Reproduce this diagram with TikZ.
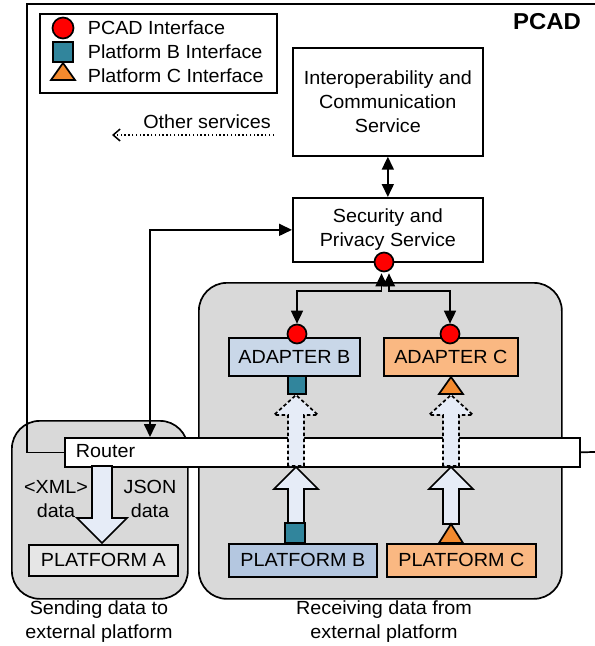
\documentclass[tikz,border=0pt]{standalone}
\usepackage{fontspec}
\setmainfont{Liberation Sans}[FakeStretch=1.04]
\usetikzlibrary{arrows.meta}

\definecolor{portred}{HTML}{FF0000}
\definecolor{portteal}{HTML}{31859C}
\definecolor{portorange}{HTML}{F38A2E}
\definecolor{groupgrey}{HTML}{D9D9D9}
\definecolor{platagrey}{HTML}{E6E6E6}
\definecolor{adapterblue}{HTML}{C9D7E8}
\definecolor{platblue}{HTML}{B4C7E0}
\definecolor{softorange}{HTML}{FAB882}
\definecolor{flowfill}{HTML}{E6ECF7}

% block arrow: [style] {x}{tip y}{head base y}{tail y}{shaft half width}{head half width}
\newcommand\blkarrow[7][]{%
  \draw[blockarrow,#1] ({#2-#6},#5) -- ({#2-#6},#4) -- ({#2-#7},#4) -- (#2,#3)
    -- ({#2+#7},#4) -- ({#2+#6},#4) -- ({#2+#6},#5) -- cycle;}

\begin{document}
\begin{tikzpicture}[x=1pt,y=-1pt,line width=1.7pt,
  font=\fontsize{19}{24}\selectfont,
  box/.style={draw,inner sep=0pt,align=center},
  greybox/.style={draw,fill=groupgrey,rounded corners=28pt,inner sep=0pt},
  label/.style={inner sep=0pt,align=center},
  circport/.style={circle,draw,fill=portred,inner sep=0pt,minimum size=19},
  sqport/.style={rectangle,draw,fill=portteal,inner sep=0pt,minimum size=19},
  triport/.style={draw,fill=portorange,line join=miter},
  bi/.style={{Triangle[length=13pt,width=12pt]}-{Triangle[length=13pt,width=12pt]}},
  blockarrow/.style={draw,fill=flowfill,line join=miter},
  dashedflow/.style={dash pattern=on 3.5pt off 2.5pt},
  dottedflow/.style={line width=1.4pt,dash pattern=on 1.4pt off 2.4pt}]

\useasboundingbox (0,0) rectangle (595,646);
\clip (0,0) rectangle (595,646);

% grouping panels
\node[greybox,minimum width=176,minimum height=178,anchor=north west] (sendgrp) at (11,420) {};
\node[greybox,minimum width=363,minimum height=316,anchor=north west] (recvgrp) at (198,282) {};

% router bar
\node[box,fill=white,minimum width=515,minimum height=29,anchor=north west] (router) at (64,437) {};
\node[label,anchor=west] (routerlbl) at (75,451.5) {Router};

% PCAD frame, open towards the right
\coordinate (frameTR) at (610,4);
\coordinate (frameTL) at (27,4);
\coordinate (frameR) at (610,451.5);
\draw (frameTR) -- (frameTL) |- (router.west);
\draw (router.east) -- (frameR);
\node[label,font=\fontsize{23}{26}\selectfont\bfseries] (pcadlbl) at (547,22) {PCAD};

% legend
\node[box,minimum width=237,minimum height=79,anchor=north west] (legend) at (39,13) {};
\node[circport,minimum size=21] (lgcirc) at (63,28) {};
\node[sqport,minimum size=20] (lgsq) at (63,52) {};
\draw[triport] (51,80) -- (75,80) -- (63,63) -- cycle;
\node[label,anchor=west] (lg1) at (87,28) {PCAD Interface};
\node[label,anchor=west] (lg2) at (87,52) {Platform B Interface};
\node[label,anchor=west] (lg3) at (87,76) {Platform C Interface};

% other services
\node[label] (other) at (207,122) {Other services};
\coordinate (otherA) at (274,135);
\coordinate (otherB) at (112,135);
\draw[dottedflow,-{Straight Barb[length=7pt,width=12pt,line width=1.5pt]}] (otherA) -- (otherB);

% services
\node[box,minimum width=190,minimum height=108,anchor=north west] (interop) at (292,47)
  {Interoperability and\\Communication\\Service};
\node[box,minimum width=190,minimum height=64,anchor=north west] (security) at (292,197)
  {Security and\\Privacy Service};
\draw[bi] (interop.south) -- (security.north);

% router <-> security
\coordinate (tapx) at (150,0);
\draw[bi] (router.north -| tapx) |- (security.west);

% adapters
\node[box,fill=adapterblue,minimum width=131,minimum height=38,anchor=north west] (adapterB) at (228,337) {ADAPTER B};
\node[box,fill=softorange,minimum width=134,minimum height=38,anchor=north west] (adapterC) at (383,337) {ADAPTER C};

% platforms
\node[box,fill=platagrey,minimum width=149,minimum height=31,anchor=north west] (platA) at (28,544) {PLATFORM A};
\node[box,fill=platblue,minimum width=148,minimum height=33,anchor=north west] (platB) at (228,543) {PLATFORM B};
\node[box,fill=softorange,minimum width=149,minimum height=33,anchor=north west] (platC) at (386,543) {PLATFORM C};

% data flows
\blkarrow{102}{543}{518}{466}{10}{25}
\blkarrow[dashedflow]{296}{395}{415}{466}{8}{22}
\blkarrow[dashedflow]{451}{395}{415}{466}{8}{22}
\blkarrow{296}{467}{489}{523}{8}{22}
\blkarrow{451}{467}{489}{524}{8}{22}

\node[label] (xmllbl) at (56,499) {<XML>\\data};
\node[label] (jsonlbl) at (150,499) {JSON\\data};

% interface ports
\node[sqport,minimum size=18] (sqBa) at (297,385) {};
\node[sqport,minimum size=20] (sqBb) at (295,533) {};
\draw[triport] (439,394) -- (463,394) -- (451,377) -- cycle;
\draw[triport] (439,543) -- (463,543) -- (451,524) -- cycle;
\node[circport] (portBa) at (297,334) {};
\node[circport] (portCa) at (450,334) {};
\node[circport] (secport) at (384,262) {};

% security <-> adapters
\coordinate (secL) at ([xshift=-2.5pt,yshift=-1pt]secport.south);
\coordinate (secR) at ([xshift=5pt,yshift=-1pt]secport.south);
\coordinate (busy) at (0,291);
\draw[bi] (secL) -- (secL |- busy) -| (portBa.north);
\draw[bi] (secR) -- (secR |- busy) -| (portCa.north);

% captions
\node[label] (sendlbl) at (99,621.5) {Sending data to\\external platform};
\node[label] (recvlbl) at (384,621.5) {Receiving data from\\external platform};
\end{tikzpicture}
\end{document}
